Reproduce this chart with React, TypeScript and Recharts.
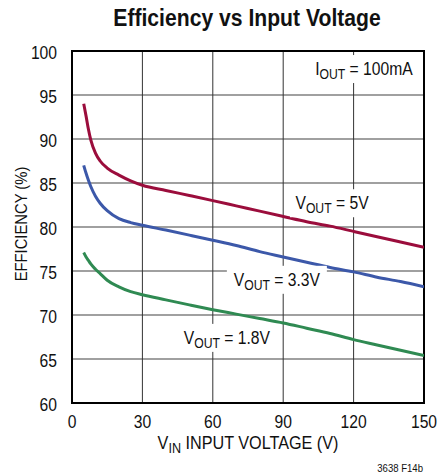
import React from 'react';
import { LineChart, Line, XAxis, YAxis, CartesianGrid, ReferenceArea, ReferenceDot, Customized } from 'recharts';

const vin = [5, 6, 7, 8, 10, 12, 15, 20, 25, 30, 40, 50, 60, 70, 80, 90, 100, 110, 120, 130, 140, 150];
const eff5v = [94, 92.6, 91.1, 89.9, 88.4, 87.5, 86.7, 85.9, 85.25, 84.75, 84.15, 83.58, 83.0, 82.4, 81.8, 81.2, 80.6, 80.1, 79.5, 78.9, 78.3, 77.7];
const eff33v = [87, 86.1, 85.3, 84.6, 83.5, 82.7, 81.85, 80.95, 80.5, 80.2, 79.65, 79.08, 78.5, 77.9, 77.2, 76.6, 76.0, 75.4, 74.9, 74.3, 73.8, 73.2];
const eff18v = [77.1, 76.6, 76.2, 75.8, 75.2, 74.7, 73.95, 73.2, 72.65, 72.3, 71.72, 71.15, 70.6, 70.1, 69.6, 69.1, 68.5, 67.9, 67.2, 66.6, 66.0, 65.4];

const xTicks = [0, 30, 60, 90, 120, 150];
const yTicks = [60, 65, 70, 75, 80, 85, 90, 95, 100];

const font = "'Liberation Sans', Arial, Helvetica, sans-serif";
const NARROW = 0.87;

const toSeries = (vals: number[]) => vin.map((x, i) => ({ x, y: vals[i] }));

// horizontally squeezed text to mimic a condensed face
const NarrowText = ({ x, y, anchor = 'start', size = 18, dy = '0', weight = 'normal', sx = NARROW, rotate = 0, children }: any) => (
  <text
    transform={`translate(${x} ${y}) rotate(${rotate}) scale(${sx} 1)`}
    textAnchor={anchor}
    dy={dy}
    fontFamily={font}
    fontSize={size}
    fontWeight={weight}
    fill="#111"
  >
    {children}
  </text>
);

const yTick = (p: any) => (
  <NarrowText x={p.x} y={p.y + 2} anchor="end" dy="0.355em">{p.payload.value}</NarrowText>
);
const xTick = (p: any) => (
  <NarrowText x={p.x} y={p.y} anchor="middle" dy="0.71em">{p.payload.value}</NarrowText>
);

// label with white box behind it, anchored at data coords
const boxLabel = (main: string, sub: string, rest: string, w: number) => (p: any) => {
  const { cx, cy } = p;
  return (
    <g>
      <rect x={cx - w / 2} y={cy - 14} width={w} height={28} fill="#fff" />
      <NarrowText x={cx} y={cy + 6} anchor="middle">
        {main}
        <tspan fontSize={14} dy={4}>{sub}</tspan>
        <tspan dy={-4}>{rest}</tspan>
      </NarrowText>
    </g>
  );
};

const Extras = () => (
  <g>
    <NarrowText x={247} y={26} anchor="middle" size={23} weight="bold" sx={0.92}>Efficiency vs Input Voltage</NarrowText>
    <NarrowText x={27} y={224} anchor="middle" size={17} rotate={-90}>EFFICIENCY (%)</NarrowText>
    <NarrowText x={248} y={449} anchor="middle" size={18} sx={0.9}>
      V<tspan fontSize={14} dy={4}>IN</tspan><tspan dy={-4}> INPUT VOLTAGE (V)</tspan>
    </NarrowText>
    <NarrowText x={423} y={472} anchor="end" size={11}>3638 F14b</NarrowText>
  </g>
);

export default function App() {
  return (
    <div style={{ position: 'absolute', left: 0, top: 0, background: '#fff' }}>
      <LineChart width={445} height={474} margin={{ top: 51, right: 21, bottom: 41, left: 12 }}>
        <CartesianGrid horizontal vertical={false} stroke="#808080" strokeWidth={1.6} />
        <CartesianGrid horizontal={false} vertical stroke="#333" strokeWidth={1} />
        <XAxis
          type="number"
          dataKey="x"
          domain={[0, 150]}
          ticks={xTicks}
          tickLine={false}
          axisLine={false}
          height={30}
          tickMargin={6}
          tick={xTick}
          allowDataOverflow
        />
        <YAxis
          type="number"
          domain={[60, 100]}
          ticks={yTicks}
          tickLine={false}
          axisLine={false}
          width={60}
          tickMargin={9}
          tick={yTick}
          allowDataOverflow
        />
        <ReferenceArea x1={0} x2={150} y1={60} y2={100} fill="none" stroke="#000" strokeWidth={2} ifOverflow="visible" />
        <ReferenceDot x={124.4} y={97.95} r={0} shape={boxLabel('I', 'OUT', ' = 100mA', 106)} />
        <ReferenceDot x={110.8} y={82.7} r={0} shape={boxLabel('V', 'OUT', ' = 5V', 84)} />
        <ReferenceDot x={87.3} y={74.0} r={0} shape={boxLabel('V', 'OUT', ' = 3.3V', 100)} />
        <ReferenceDot x={66} y={67.4} r={0} shape={boxLabel('V', 'OUT', ' = 1.8V', 98)} />
        <Line data={toSeries(eff5v)} dataKey="y" type="monotone" stroke="#9b0d3c" strokeWidth={3} dot={false} isAnimationActive={false} />
        <Line data={toSeries(eff33v)} dataKey="y" type="monotone" stroke="#3c58a9" strokeWidth={3} dot={false} isAnimationActive={false} />
        <Line data={toSeries(eff18v)} dataKey="y" type="monotone" stroke="#2f8a52" strokeWidth={3} dot={false} isAnimationActive={false} />
        <Customized component={Extras} />
      </LineChart>
    </div>
  );
}
